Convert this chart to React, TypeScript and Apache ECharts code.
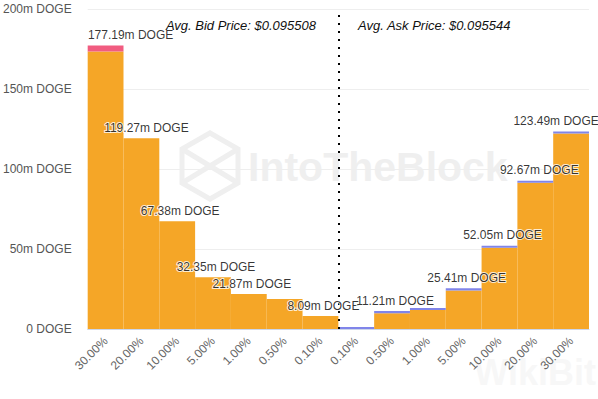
import React, { useEffect, useRef } from "react";
import * as echarts from "echarts";

const categories = ["30.00%", "20.00%", "10.00%", "5.00%", "1.00%", "0.50%", "0.10%", "0.10%", "0.50%", "1.00%", "5.00%", "10.00%", "20.00%", "30.00%"];
// total cumulative volume (millions DOGE)
const totals = [177.19, 119.27, 67.38, 32.35, 21.87, 18.8, 8.09, 1.2, 11.21, 13.1, 25.41, 52.05, 92.67, 123.49];
// coloured cap on the bid side
const bidCaps = [3.8, 0, 0, 0, 0, 0, 0, 0, 0, 0, 0, 0, 0, 0];
// coloured cap on the ask side
const askCaps = [0, 0, 0, 0, 0, 0, 0, 1.2, 1.3, 1.3, 1.3, 1.3, 1.3, 1.3];
const labelShown = [true, true, true, true, true, false, true, false, true, false, true, true, true, true];
const labelShift = [25, 5, 3, 3, 3, 3, 3, 3, 3, 3, 3, 3, 4, -15];
const yTicks = [0, 50, 100, 150, 200];
const avgBid = "Avg. Bid Price: $0.095508";
const avgAsk = "Avg. Ask Price: $0.095544";

const FONT = "'Liberation Sans', Arial, Helvetica, sans-serif";

export default function App() {
  const ref = useRef<HTMLDivElement>(null);
  useEffect(() => {
    document.body.style.margin = "0";
    if (!ref.current) return;
    const chart = echarts.init(ref.current, null, { renderer: "svg" });
    const base = totals.map((t, i) => +(t - bidCaps[i] - askCaps[i]).toFixed(2));
    chart.setOption({
      animation: false,
      backgroundColor: "#ffffff",
      textStyle: { fontFamily: FONT },
      grid: { left: 84, right: 9, top: 9, bottom: 70, containLabel: false },
      xAxis: [
        {
          type: "category",
          data: categories,
          axisLine: { lineStyle: { color: "#ccd6eb" } },
          axisTick: { show: false },
          axisLabel: { rotate: 45, interval: 0, color: "#666666", fontSize: 12, margin: 10, fontFamily: FONT },
          z: 5,
        },
        { type: "value", min: 0, max: categories.length, show: false },
      ],
      yAxis: {
        type: "value",
        min: yTicks[0],
        max: yTicks[yTicks.length - 1],
        interval: 50,
        axisLine: { show: false },
        axisTick: { show: false },
        splitLine: { lineStyle: { color: "#eeeeee" } },
        axisLabel: {
          color: "#555555",
          fontSize: 12,
          margin: 16,
          fontFamily: FONT,
          formatter: (v: number) => (v === 0 ? "0 DOGE" : `${v}m DOGE`),
        },
      },
      graphic: [
        {
          type: "polygon",
          shape: { points: [[210, 133], [238, 149], [238, 183], [210, 199], [182, 183], [182, 149]] },
          style: { fill: "none", stroke: "#efefef", lineWidth: 5 },
          z: 0,
          silent: true,
        },
        {
          type: "polyline",
          shape: { points: [[182, 149], [238, 183]] },
          style: { stroke: "#efefef", lineWidth: 5 },
          z: 0,
        },
        {
          type: "polyline",
          shape: { points: [[238, 149], [182, 183]] },
          style: { stroke: "#efefef", lineWidth: 5 },
          z: 0,
        },
        {
          type: "text",
          x: 248,
          y: 167,
          style: { text: "IntoTheBlock", font: `bold 41px ${FONT}`, fill: "#efefef", verticalAlign: "middle", align: "left" },
          z: 0,
          silent: true,
        },
        {
          type: "text",
          x: 316,
          y: 25,
          style: { text: avgBid, font: `italic 13px ${FONT}`, fill: "#111111", align: "right", verticalAlign: "middle" },
          z: 10,
        },
        {
          type: "text",
          x: 358,
          y: 25,
          style: { text: avgAsk, font: `italic 13px ${FONT}`, fill: "#111111", align: "left", verticalAlign: "middle" },
          z: 10,
        },
        {
          type: "text",
          x: 596,
          y: 372,
          style: { text: "WikiBit", font: `bold 36px ${FONT}`, fill: "#f7f7f7", align: "right", verticalAlign: "middle" },
          z: 0,
          silent: true,
        },
      ],
      series: [
        {
          type: "bar",
          stack: "depth",
          data: base,
          barCategoryGap: 0,
          itemStyle: { color: "#F5A627" },
          z: 2,
        },
        {
          type: "bar",
          stack: "depth",
          data: bidCaps,
          barCategoryGap: 0,
          itemStyle: { color: "#f15c80" },
          z: 2,
        },
        {
          type: "bar",
          stack: "depth",
          data: askCaps,
          barCategoryGap: 0,
          itemStyle: { color: "#8085e9" },
          z: 2,
        },
        {
          type: "scatter",
          data: totals.map((t, i) => ({
            value: [i, t],
            label: {
              show: labelShown[i],
              offset: [labelShift[i], 0],
            },
          })),
          symbolSize: 1,
          itemStyle: { color: "transparent" },
          label: {
            show: true,
            position: "top",
            distance: 4,
            color: "#000000",
            fontSize: 12,
            fontFamily: FONT,
            textBorderColor: "#ffffff",
            textBorderWidth: 2,
            formatter: (p: any) => `${totals[p.dataIndex].toFixed(2)}m DOGE`,
          },
          z: 8,
        },
        {
          type: "scatter",
          xAxisIndex: 1,
          data: [],
          markLine: {
            silent: true,
            symbol: "none",
            label: { show: false },
            lineStyle: { color: "#000000", type: [2, 6], width: 2 },
            data: [{ xAxis: 7 }],
          },
          z: 9,
        },
      ],
    });
    return () => chart.dispose();
  }, []);
  return <div ref={ref} style={{ width: 598, height: 399 }} />;
}
